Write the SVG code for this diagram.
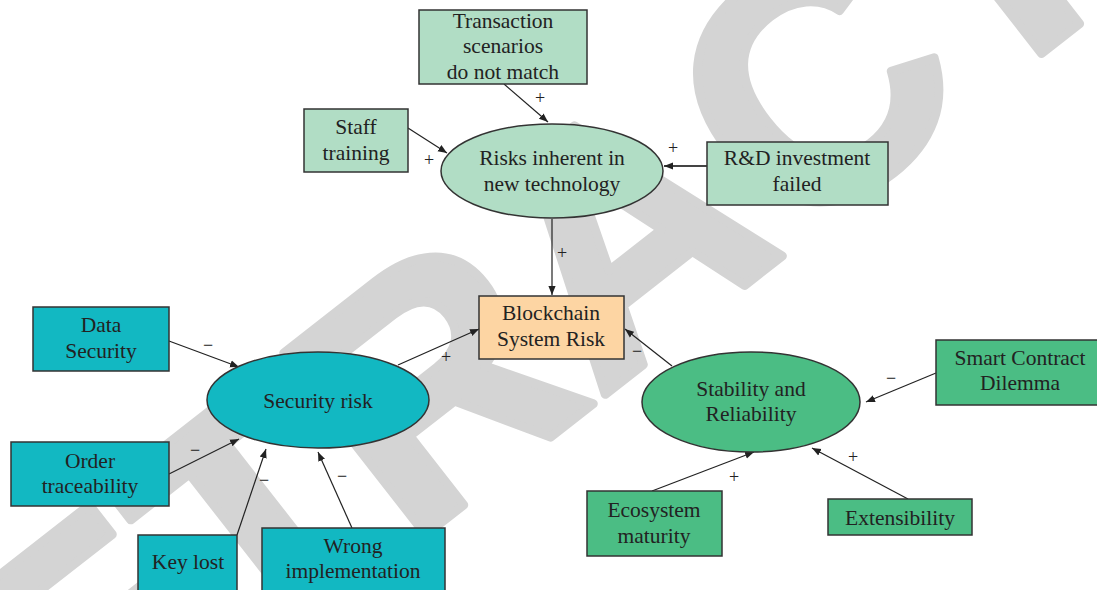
<svg xmlns="http://www.w3.org/2000/svg" width="1097" height="590" viewBox="0 0 1097 590">
<defs>
<marker id="ah" viewBox="0 0 10 10" refX="10" refY="5" markerWidth="9" markerHeight="9" markerUnits="userSpaceOnUse" orient="auto">
<path d="M0,1 L10,5 L0,9 z" fill="#222"/>
</marker>
</defs>
<style>
.t{font-family:"Liberation Serif","Times New Roman",serif;font-size:21.5px;fill:#222;text-anchor:middle}
.s{font-family:"Liberation Serif","Times New Roman",serif;font-size:18px;fill:#222;text-anchor:middle}
.b{stroke:#333;stroke-width:1.5}
.mint{fill:#b1ddc5}
.teal{fill:#12b8c2}
.green{fill:#4bbd84}
.peach{fill:#fdd5a3}
.c{stroke:#222;stroke-width:1.2;fill:none;marker-end:url(#ah)}
.wm{font-family:"Liberation Sans",Arial,sans-serif;font-weight:bold;font-size:335px;fill:#d4d4d4;stroke:#d4d4d4;stroke-width:9;stroke-linejoin:round;text-anchor:middle}
</style>
<rect width="1097" height="590" fill="#fff"/>
<text class="wm" transform="translate(694,325) rotate(-38)">RETRACTED</text>

<g id="connectors">
<line class="c" x1="504" y1="84" x2="548" y2="122"/>
<line class="c" x1="408" y1="128" x2="447" y2="153"/>
<line class="c" x1="707" y1="166" x2="664" y2="166" style="stroke-width:2.2;stroke:#444"/>
<line class="c" x1="552" y1="219" x2="552" y2="295"/>
<line class="c" x1="169" y1="341" x2="239" y2="367"/>
<line class="c" x1="169" y1="474" x2="239" y2="439"/>
<line class="c" x1="237" y1="535" x2="266" y2="449"/>
<line class="c" x1="352" y1="528" x2="318" y2="452"/>
<line class="c" x1="398" y1="365" x2="479" y2="329"/>
<line class="c" x1="672" y1="366" x2="625" y2="329"/>
<line class="c" x1="936" y1="373" x2="866" y2="402"/>
<line class="c" x1="652" y1="491" x2="754" y2="452"/>
<line class="c" x1="908" y1="499" x2="812" y2="448"/>
<text class="s" x="540" y="104">+</text>
<text class="s" x="429" y="166">+</text>
<text class="s" x="673" y="154">+</text>
<text class="s" x="562" y="259">+</text>
<text class="s" x="208" y="351">−</text>
<text class="s" x="195" y="456">−</text>
<text class="s" x="264" y="486">−</text>
<text class="s" x="342" y="482">−</text>
<text class="s" x="446" y="363">+</text>
<text class="s" x="637" y="357">−</text>
<text class="s" x="891" y="384">−</text>
<text class="s" x="734" y="483">+</text>
<text class="s" x="853" y="463">+</text>
</g>

<g id="transaction"><rect class="b mint" x="419" y="10" width="168" height="74"/>
<text class="t" x="503" y="28">Transaction</text><text class="t" x="503" y="53">scenarios</text><text class="t" x="503" y="79">do not match</text></g>
<g id="staff"><rect class="b mint" x="304" y="109" width="104" height="63"/>
<text class="t" x="356" y="134">Staff</text><text class="t" x="356" y="160">training</text></g>
<g id="risks"><ellipse class="b mint" cx="552" cy="171" rx="111" ry="47"/>
<text class="t" x="552" y="165">Risks inherent in</text><text class="t" x="552" y="191">new technology</text></g>
<g id="rd"><rect class="b mint" x="707" y="142" width="181" height="63"/>
<text class="t" x="797" y="165">R&amp;D investment</text><text class="t" x="797" y="191">failed</text></g>
<g id="blockchain"><rect class="b peach" x="479" y="296" width="145" height="63"/>
<text class="t" x="551" y="320">Blockchain</text><text class="t" x="551" y="346">System Risk</text></g>
<g id="security"><ellipse class="b teal" cx="318" cy="400" rx="111" ry="48"/>
<text class="t" x="318" y="408">Security risk</text></g>
<g id="data"><rect class="b teal" x="33" y="307" width="136" height="64"/>
<text class="t" x="101" y="332">Data</text><text class="t" x="101" y="358">Security</text></g>
<g id="order"><rect class="b teal" x="11" y="442" width="158" height="64"/>
<text class="t" x="90" y="468">Order</text><text class="t" x="90" y="493">traceability</text></g>
<g id="keylost"><rect class="b teal" x="138" y="535" width="99" height="60"/>
<text class="t" x="188" y="569">Key lost</text></g>
<g id="wrong"><rect class="b teal" x="262" y="528" width="183" height="67"/>
<text class="t" x="353" y="553">Wrong</text><text class="t" x="353" y="578">implementation</text></g>
<g id="stability"><ellipse class="b green" cx="751" cy="402" rx="109" ry="50"/>
<text class="t" x="751" y="396">Stability and</text><text class="t" x="751" y="421">Reliability</text></g>
<g id="smart"><rect class="b green" x="936" y="340" width="165" height="65"/>
<text class="t" x="1020" y="365">Smart Contract</text><text class="t" x="1020" y="390">Dilemma</text></g>
<g id="ecosystem"><rect class="b green" x="587" y="491" width="135" height="65"/>
<text class="t" x="654" y="517">Ecosystem</text><text class="t" x="654" y="543">maturity</text></g>
<g id="extensibility"><rect class="b green" x="828" y="499" width="144" height="36"/>
<text class="t" x="900" y="525">Extensibility</text></g>
</svg>
